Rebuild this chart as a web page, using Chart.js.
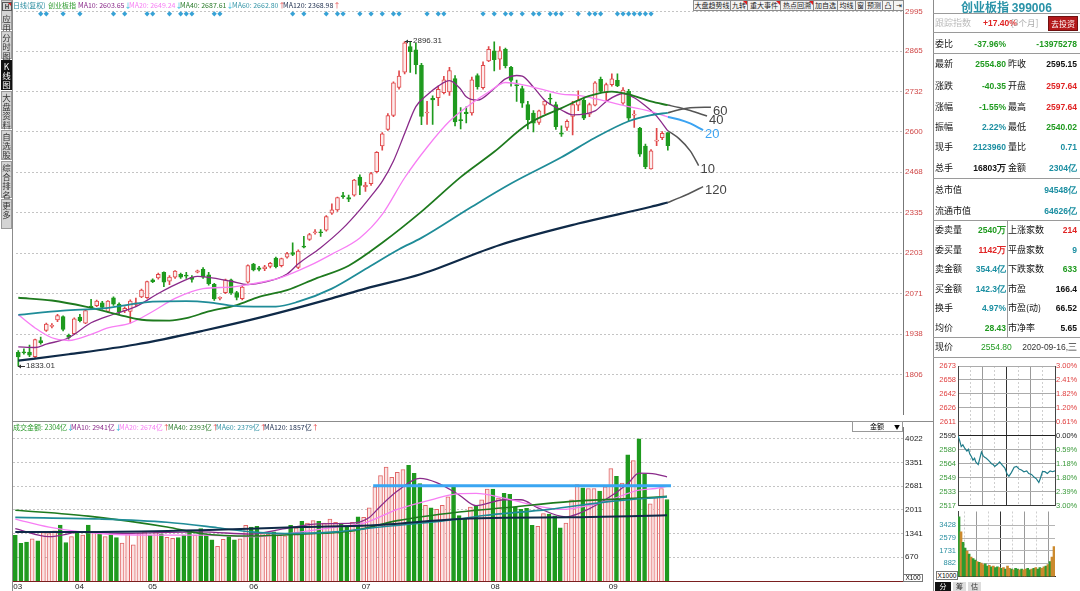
<!DOCTYPE html>
<html>
<head>
<meta charset="utf-8">
<script src="https://cdn.jsdelivr.net/npm/chart.js@4.4.1/dist/chart.umd.min.js"></script>
<style>
    html, body { margin: 0; padding: 0; }
    body { width: 1080px; height: 591px; overflow: hidden; background: #fff; position: relative;
           font-family: "Noto Sans CJK SC", "Noto Sans", sans-serif; }
    canvas { position: absolute; }
    .a { position: absolute; white-space: nowrap; line-height: 1; }
    .ln { position: absolute; background: #8c8c8c; }
    .tab { position: absolute; left: 1px; width: 11px; background: #d4d4d4; border: 1px solid #9a9a9a;
           box-sizing: border-box; font-size: 8.5px; line-height: 9px; text-align: center; color: #333; }
    .btn { position: absolute; top: 0; height: 11px; border: 1px solid #8c8c8c; box-sizing: border-box;
           background: #f3f3f3; font-size: 7px; line-height: 9px; text-align: center; color: #222; overflow: hidden; }
    .corner { position: absolute; right: 0; top: 0; width: 0; height: 0;
              border-top: 4px solid #e02020; border-left: 4px solid transparent; }
    .lg { position: absolute; font-size: 7px; line-height: 1; white-space: nowrap; top: 2px; }
    .num { font-family: "Liberation Sans", Arial, sans-serif; }
    .lab { position: absolute; font-size: 9px; color: #111; white-space: nowrap; line-height: 1; }
    .val { position: absolute; font-size: 8.5px; font-weight: bold; white-space: nowrap; line-height: 1;
           font-family: "Liberation Sans", Arial, sans-serif; }
</style>
</head>
<body>
<canvas id="kline" width="921" height="421" style="left:12px;top:0"></canvas>
<canvas id="vol" width="921" height="170" style="left:12px;top:421px"></canvas>
<canvas id="ipx" width="147" height="154" style="left:933px;top:358px"></canvas>
<canvas id="ivol" width="147" height="78" style="left:933px;top:505px"></canvas>
<div id="overlay"></div>

<script>
// 创业板指 399006 daily candles, 2020-03 .. 2020-09-16
const open = [
    1878, 1880, 1879, 1864, 1917, 1950, 1963, 1984, 1995, 1934,
    1939, 1994, 1974, 2030, 2031, 2040, 2012, 2057, 2036, 2014,
    2012, 2035, 2060, 2057, 2116, 2122, 2140, 2111, 2124, 2134,
    2131, 2124, 2141, 2150, 2132, 2101, 2055, 2074, 2116, 2074,
    2054, 2108, 2167, 2155, 2152, 2160, 2187, 2162, 2190, 2205,
    2156, 2226, 2248, 2270, 2273, 2278, 2334, 2345, 2392, 2385,
    2393, 2452, 2420, 2431, 2470, 2554, 2608, 2654, 2746, 2796,
    2880, 2869, 2818, 2662, 2710, 2712, 2729, 2731, 2775, 2640,
    2665, 2662, 2785, 2745, 2833, 2866, 2838, 2871, 2812, 2755,
    2742, 2690, 2662, 2631, 2688, 2710, 2690, 2597, 2615, 2651,
    2688, 2704, 2658, 2688, 2772, 2729, 2755, 2769, 2694, 2733,
    2655, 2613, 2554, 2479, 2570, 2581, 2597.64
];
const high = [
    1884, 1890, 1902, 1922, 1928, 1974, 1972, 2003, 1998, 1938,
    1991, 2003, 2018, 2052, 2049, 2045, 2048, 2060, 2040, 2027,
    2050, 2056, 2085, 2112, 2119, 2138, 2142, 2130, 2146, 2138,
    2140, 2130, 2148, 2156, 2140, 2104, 2060, 2118, 2118, 2078,
    2095, 2165, 2170, 2160, 2163, 2173, 2190, 2187, 2206, 2237,
    2214, 2258, 2268, 2280, 2280, 2326, 2365, 2387, 2402, 2393,
    2445, 2460, 2435, 2468, 2536, 2598, 2660, 2764, 2800, 2896.31,
    2895, 2890, 2825, 2700, 2718, 2750, 2782, 2812, 2785, 2680,
    2682, 2780, 2790, 2830, 2880, 2895, 2880, 2875, 2815, 2770,
    2750, 2700, 2670, 2672, 2702, 2725, 2698, 2620, 2640, 2700,
    2735, 2710, 2695, 2765, 2780, 2760, 2790, 2790, 2745, 2740,
    2670, 2615, 2560, 2542, 2612, 2601, 2597.64
];
const low = [
    1833.01, 1872, 1864, 1860, 1905, 1947, 1958, 1979, 1948, 1921,
    1937, 1978, 1972, 2020, 2028, 2020, 2010, 2032, 2005, 2008,
    1974, 2028, 2057, 2055, 2106, 2118, 2093, 2100, 2120, 2120,
    2120, 2108, 2138, 2120, 2098, 2048, 2050, 2070, 2068, 2050,
    2050, 2105, 2145, 2145, 2146, 2155, 2155, 2158, 2187, 2195,
    2152, 2220, 2245, 2265, 2258, 2275, 2330, 2340, 2382, 2372,
    2390, 2395, 2405, 2425, 2466, 2540, 2605, 2650, 2740, 2790,
    2795, 2790, 2624, 2625, 2625, 2686, 2725, 2720, 2620, 2610,
    2630, 2655, 2740, 2740, 2830, 2800, 2805, 2810, 2750, 2700,
    2680, 2610, 2600, 2625, 2660, 2690, 2608, 2585, 2605, 2590,
    2670, 2640, 2650, 2685, 2728, 2700, 2750, 2748, 2690, 2635,
    2615, 2520, 2480, 2478, 2555, 2575, 2540.02
];
const close = [
    1863, 1876, 1869, 1920, 1910, 1971, 1967, 1999, 1953, 1927,
    1988, 1982, 2015, 2024, 2046, 2025, 2046, 2036, 2010, 2022,
    2046, 2040, 2082, 2110, 2110, 2134, 2108, 2125, 2144, 2124,
    2128, 2117, 2145, 2124, 2103, 2053, 2056, 2116, 2074, 2058,
    2092, 2162, 2148, 2150, 2158, 2170, 2159, 2185, 2202, 2199,
    2210, 2223, 2264, 2273, 2270, 2323, 2345, 2385, 2388, 2380,
    2442, 2425, 2426, 2464, 2533, 2594, 2654, 2761, 2783, 2892,
    2863, 2820, 2651, 2665, 2705, 2740, 2771, 2801, 2633, 2637,
    2660, 2771, 2748, 2818, 2871, 2837, 2866, 2817, 2769, 2752,
    2694, 2640, 2629, 2669, 2701, 2707, 2617, 2593, 2635, 2690,
    2704, 2645, 2690, 2761, 2733, 2755, 2774, 2751, 2737, 2645,
    2658, 2527, 2486, 2538, 2573, 2595.15, 2554.80
];
// 成交金额 (亿)
const amount = [
    1289, 1062, 1098, 1189, 1134, 1370, 1343, 1416, 1579, 1089,
    1252, 1388, 1298, 1579, 1379, 1325, 1252, 1343, 1225, 1071,
    1343, 1025, 1343, 1388, 1298, 1388, 1325, 1234, 1207, 1225,
    1298, 1434, 1298, 1479, 1298, 1161, 980, 1180, 1252, 1161,
    1189, 1570, 1525, 1543, 1343, 1325, 1388, 1298, 1280, 1570,
    1506, 1688, 1634, 1706, 1688, 1634, 1752, 1661, 1634, 1525,
    1661, 1815, 1800, 2069, 2659, 2977, 3222, 2932, 3068, 3150,
    3267, 3040, 2750, 2142, 2069, 2024, 2140, 2380, 2650, 1850,
    1780, 2087, 2115, 2296, 2596, 2596, 2342, 2478, 2450, 2096,
    2024, 2051, 1570, 1543, 1906, 1888, 1842, 1506, 1634, 2296,
    2723, 2632, 2614, 2614, 2541, 2659, 3177, 2959, 2768, 3567,
    3404, 4021, 3022, 2178, 2360, 2614, 2304
];

const monthTicks = [0, 11, 24, 42, 62, 85, 106];
const monthLabels = ['03', '04', '05', '06', '07', '08', '09'];
const priceTicks = [1806, 1938, 2071, 2203, 2335, 2468, 2600, 2732, 2865, 2995];
const amountTicks = [670, 1341, 2011, 2681, 3351, 4022];
// days with a signal diamond on the top row
const signalDays = [4, 5, 8, 11, 17, 19, 23, 24, 27, 29, 30, 31, 35, 36, 49, 51, 55, 57, 58, 61,
    63, 65, 67, 68, 73, 75, 76, 83, 85, 87, 88, 90, 92, 93, 95, 96, 97, 100, 102, 103, 104,
    107, 108, 109, 110, 111, 112, 113];

// moving averages, [day, value]
const ma10 = [[0,1896],[3,1894],[5,1905],[9,1926],[13,1975],[17,2003],[21,2028],[25,2071],[29,2108],
    [32,2127],[34,2124],[38,2111],[41,2100],[44,2108],[48,2135],[50,2168],[54,2221],[58,2285],[61,2345],
    [63,2390],[65,2438],[67,2505],[69,2595],[71,2683],[73,2721],[75,2750],[77,2768],[79,2740],[80,2715],
    [82,2704],[85,2742],[87,2774],[89,2785],[90,2783],[92,2747],[94,2704],[97,2672],[99,2656],[103,2669],
    [105,2700],[108,2726],[110,2712],[111,2700],[113,2670],[114,2652],[116,2603.65]];
const ma20 = [[0,2001],[3,1958],[6,1926],[9,1917],[13,1937],[16,1958],[20,1974],[24,2012],[28,2055],
    [33,2087],[38,2092],[42,2103],[47,2124],[52,2162],[56,2200],[61,2253],[65,2330],[69,2450],[73,2550],
    [77,2635],[81,2694],[84,2731],[87,2762],[90,2755],[93,2742],[97,2724],[100,2720],[104,2705],
    [109,2683],[113,2667],[116,2649.24]];
const ma40 = [[0,2057],[6,2048],[12,2028],[18,2001],[22,1985],[27,1982],[30,1990],[34,2012],[39,2033],
    [43,2060],[48,2082],[53,2119],[59,2162],[65,2237],[72,2339],[79,2452],[85,2535],[91,2626],[97,2678],
    [102,2718],[106,2732],[109,2723],[113,2700],[116,2687.61]];
const ma60 = [[0,2001],[8,2015],[15,2022],[24,2044],[30,2046],[34,2042],[38,2031],[42,2028],[46,2028],
    [50,2044],[56,2087],[62,2151],[68,2216],[72,2253],[81,2355],[88,2431],[97,2517],[103,2581],
    [109,2635],[113,2655],[116,2662.80]];
const ma120 = [[0,1851],[9,1872],[21,1904],[33,1949],[44,1996],[56,2055],[62,2087],[72,2135],[86,2230],
    [100,2300],[113,2355],[116,2368.98]];
// projected ends drawn past the last bar
const ext10 = [[116,2604],[118,2578],[120,2538],[121.5,2490]];
const ext20 = [[116,2649],[118,2641],[120,2628],[122.3,2606]];
const ext40 = [[116,2688],[118,2680],[120,2670],[123,2652]];
const ext60 = [[116,2663],[118,2673],[120,2679],[123.7,2681]];
const ext120 = [[116,2369],[118,2384],[120,2400],[122.3,2421]];

// amount moving averages, [day, 亿]
const vma10 = [[0,1479],[6,1252],[12,1388],[18,1343],[24,1361],[33,1388],[42,1325],[48,1479],[54,1615],
    [60,1634],[63,1797],[65,2115],[68,2541],[72,2900],[75,2780],[79,2432],[82,2130],[87,2296],[90,2296],
    [93,2069],[98,1815],[100,1888],[105,2296],[109,2750],[111,3050],[114,3022],[116,2941]];
const vma20 = [[0,1752],[6,1525],[15,1343],[24,1298],[33,1298],[42,1252],[51,1388],[57,1525],[62,1634],
    [68,2024],[74,2296],[79,2470],[82,2478],[87,2342],[93,2115],[97,2024],[105,2251],[111,2569],
    [114,2614],[116,2674]];
const vma40 = [[0,2000],[13,1833],[27,1525],[33,1343],[42,1270],[51,1325],[60,1416],[68,1706],[79,1950],
    [87,2069],[99,2251],[111,2342],[116,2393]];
const vma60 = [[0,1797],[15,1752],[27,1661],[36,1506],[42,1388],[48,1343],[57,1388],[65,1525],[74,1661],
    [79,1752],[83,1842],[95,2024],[106,2251],[116,2379]];
const vma120 = [[0,1388],[15,1388],[33,1434],[51,1525],[63,1570],[79,1752],[87,1790],[99,1800],
    [111,1840],[116,1857]];
const amountLine = [[63.7,2690],[116.7,2690]];

// intraday 2020-09-16: minute from open, price
const iMinute = [0,4,8,12,17,22,26,29,33,37,41,44,50,54,58,62,66,70,75,79,83,87,91,97,103,110,116,120,
    122,126,132,139,145,151,157,163,170,175,182,188,194,200,204,209,215,221,228,234,240];
const iPrice = [2595,2590,2583,2585,2581,2578,2580,2575,2572,2568,2570,2566,2563,2570,2577,2573,2571,
    2570,2568,2566,2564,2563,2561,2563,2566,2562,2559,2554,2552,2550,2554,2560,2561,2558,2557,2555,
    2556,2553,2552,2549,2547,2543,2548,2555,2555,2553,2556,2555,2556];
// intraday volume per 5 minutes (x1000) and whether the slot went up
const iVol = [4000,3000,2300,1900,1700,1500,1300,1200,1100,1000,950,900,800,850,700,750,650,700,600,650,
    600,550,600,500,700,550,500,450,550,500,450,500,450,500,550,450,500,550,600,500,600,550,650,700,800,
    1000,1300,2000];
const iVolUp = [0,1,0,0,1,0,1,0,0,1,0,1,1,0,0,1,0,1,0,0,1,0,1,0,1,1,0,1,0,0,1,0,1,1,0,0,1,0,1,0,0,1,1,0,
    1,0,1,1];
const iPxLabels = ['2517','2533','2549','2564','2580','2595','2611','2626','2642','2658','2673'];
const iPctLabels = ['3.00%','2.39%','1.80%','1.18%','0.59%','0.00%','0.61%','1.20%','1.82%','2.41%','3.00%'];
const iVolTicks = [882, 1731, 2579, 3428];

const RED = '#E0484A', GREEN = '#1E9A1E', HOLLOW = '#FDECEC';
const xMin = -0.41, xMax = 158.0;
const up = close.map((c, i) => c >= open[i]);
const pts = arr => arr.map(([x, y]) => ({ x, y }));

function maLine(arr, color, width, extra) {
    return Object.assign({
        type: 'line', data: pts(arr), borderColor: color, borderWidth: width,
        pointRadius: 0, cubicInterpolationMode: 'monotone', order: -1
    }, extra || {});
}

// high / low marks and the labels on the projected ends
const notePlugin = {
    id: 'notes',
    afterDatasetsDraw(chart) {
        const { ctx, scales: { x, y } } = chart;
        ctx.save();
        ctx.textBaseline = 'middle';
        const hi = high.indexOf(Math.max(...high));
        const lo = low.indexOf(Math.min(...low));
        [[hi, high[hi]], [lo, low[lo]]].forEach(([i, v]) => {
            const px = Math.round(x.getPixelForValue(i)), py = Math.round(y.getPixelForValue(v)) + 0.5;
            ctx.strokeStyle = '#333';
            ctx.fillStyle = '#333';
            ctx.lineWidth = 1;
            ctx.beginPath(); ctx.moveTo(px, py); ctx.lineTo(px + 7, py); ctx.stroke();
            ctx.beginPath(); ctx.moveTo(px, py); ctx.lineTo(px + 3, py - 2); ctx.lineTo(px + 3, py + 2); ctx.fill();
            ctx.font = '8px "Liberation Sans", Arial, sans-serif';
            ctx.fillText(v.toFixed(2), px + 8, py - 0.5);
        });
        ctx.font = '13px "Liberation Sans", Arial, sans-serif';
        chart.data.datasets.forEach(ds => {
            if (!ds.endLabel) return;
            const last = ds.data[ds.data.length - 1];
            ctx.fillStyle = ds.labelColor;
            ctx.fillText(ds.endLabel, x.getPixelForValue(last.x) + 2, y.getPixelForValue(last.y) + 4);
        });
        ctx.restore();
    }
};

const noUi = { legend: { display: false }, tooltip: { enabled: false } };

new Chart(document.getElementById('kline'), {
    data: {
        datasets: [
            {
                type: 'bar', data: open.map((o, i) => ({ x: i, y: [o, close[i]] })),
                backgroundColor: up.map(u => u ? HOLLOW : GREEN), borderColor: up.map(u => u ? RED : GREEN),
                borderWidth: 1, borderSkipped: false, barThickness: 4, minBarLength: 1, grouped: false, order: 0
            },
            {
                type: 'bar', data: low.map((l, i) => ({ x: i, y: [l, high[i]] })),
                backgroundColor: up.map(u => u ? RED : GREEN), barThickness: 1, grouped: false, order: 1
            },
            maLine(ma120, '#0F2A48', 2.2),
            maLine(ma60, '#1F8C98', 1.8),
            maLine(ma40, '#1E7A1E', 1.8),
            maLine(ma20, '#F77EF4', 1.3),
            maLine(ma10, '#8A2A8A', 1.3),
            maLine(ext10, '#555', 1.5, { endLabel: '10', labelColor: '#444' }),
            maLine(ext20, '#3BA3F2', 2, { endLabel: '20', labelColor: '#3BA3F2' }),
            maLine(ext40, '#555', 1.5, { endLabel: '40', labelColor: '#444' }),
            maLine(ext60, '#555', 1.5, { endLabel: '60', labelColor: '#444' }),
            maLine(ext120, '#555', 1.5, { endLabel: '120', labelColor: '#444' }),
            {
                type: 'line', data: signalDays.map(i => ({ x: i, y: 2987 })), showLine: false,
                pointStyle: 'rectRot', pointRadius: 2.6, pointBackgroundColor: '#37A2D6', pointBorderWidth: 0, order: -2
            }
        ]
    },
    options: {
        responsive: false, animation: false,
        layout: { padding: { left: 1, top: 8, right: 0, bottom: 0 } },
        plugins: noUi,
        scales: {
            x: { type: 'linear', min: xMin, max: xMax, offset: false, display: false },
            y: {
                position: 'right', min: 1675.6, max: 3006,
                afterFit(s) { s.width = 30; },
                afterBuildTicks(s) { s.ticks = priceTicks.map(v => ({ value: v })); },
                ticks: { color: '#D04848', font: { size: 8, family: 'Liberation Sans' }, padding: 2, callback: v => v },
                grid: { color: '#C4C4C4', drawTicks: false },
                border: { color: '#777', dash: [2, 2] }
            }
        }
    },
    plugins: [notePlugin]
});

new Chart(document.getElementById('vol'), {
    data: {
        datasets: [
            {
                type: 'bar', data: amount.map((v, i) => ({ x: i, y: v })),
                backgroundColor: up.map(u => u ? '#FBE3E3' : GREEN), borderColor: up.map(u => u ? '#E06666' : GREEN),
                borderWidth: 1, barThickness: 4, grouped: false, order: 1
            },
            maLine(vma120, '#0F2A48', 2),
            maLine(vma60, '#1F8C98', 1.6),
            maLine(vma40, '#1E7A1E', 1.6),
            maLine(vma20, '#F77EF4', 1.3),
            maLine(vma10, '#8A2A8A', 1.3),
            { type: 'line', data: pts(amountLine), borderColor: '#3AA6F2', borderWidth: 3, pointRadius: 0, order: -3 }
        ]
    },
    options: {
        responsive: false, animation: false,
        layout: { padding: { left: 1, top: 1, right: 0, bottom: 0 } },
        plugins: noUi,
        scales: {
            x: {
                type: 'linear', min: xMin, max: xMax, offset: false,
                afterFit(s) { s.height = 10; },
                afterBuildTicks(s) { s.ticks = monthTicks.map(v => ({ value: v })); },
                ticks: {
                    align: 'start', labelOffset: -2, padding: 1, autoSkip: false, maxRotation: 0,
                    color: '#222', font: { size: 8, family: 'Liberation Sans' },
                    callback: (v, idx) => monthLabels[idx]
                },
                grid: { display: false, drawTicks: false },
                border: { color: '#7A1F1F' }
            },
            y: {
                position: 'right', min: 0, max: 4330,
                afterFit(s) { s.width = 30; },
                afterBuildTicks(s) { s.ticks = amountTicks.map(v => ({ value: v })); },
                ticks: { color: '#222', font: { size: 8, family: 'Liberation Sans' }, padding: 2, callback: v => v },
                grid: { color: '#C4C4C4', drawTicks: false },
                border: { color: '#777', dash: [2, 2] }
            }
        }
    }
});

// intraday panel
const halfHours = [0, 30, 60, 90, 120, 150, 180, 210, 240];
const tickVal = c => (c && c.tick) ? c.tick.value : 0;
const vGridColor = c => tickVal(c) === 120 ? '#333' : (tickVal(c) % 60 === 0 ? '#9a9a9a' : '#cfcfcf');
const vGridDash = c => tickVal(c) % 60 === 30 ? [2, 2] : [];
const iMin = 2517.3, iMax = 2673.0;
const pxColor = c => c.index > 5 ? '#E04040' : (c.index === 5 ? '#222' : '#3A9A3A');

new Chart(document.getElementById('ipx'), {
    type: 'line',
    data: {
        datasets: [{
            data: iMinute.map((m, k) => ({ x: m, y: iPrice[k] })),
            borderColor: '#1F7C8A', borderWidth: 1.2, pointRadius: 0, tension: 0
        }]
    },
    options: {
        responsive: false, animation: false,
        layout: { padding: { top: 8, bottom: 3 } },
        plugins: noUi,
        scales: {
            x: {
                type: 'linear', min: 0, max: 240, offset: false,
                afterFit(s) { s.height = 0; },
                afterBuildTicks(s) { s.ticks = halfHours.map(v => ({ value: v })); },
                ticks: { display: false },
                grid: { color: vGridColor, drawTicks: false },
                border: { color: '#333', dash: vGridDash }
            },
            y: {
                position: 'left', min: iMin, max: iMax,
                afterFit(s) { s.width = 25; },
                afterBuildTicks(s) { s.ticks = iPxLabels.map((_, k) => ({ value: iMin + k * (iMax - iMin) / 10 })); },
                ticks: { color: pxColor, font: { size: 7.5, family: 'Liberation Sans' }, padding: 2, callback: (v, k) => iPxLabels[k] },
                grid: { color: c => c.index === 5 ? '#222' : '#ababab', drawTicks: false },
                border: { color: '#444' }
            },
            yr: {
                position: 'right', min: iMin, max: iMax,
                afterFit(s) { s.width = 25; },
                afterBuildTicks(s) { s.ticks = iPctLabels.map((_, k) => ({ value: iMin + k * (iMax - iMin) / 10 })); },
                ticks: { color: pxColor, font: { size: 7.5, family: 'Liberation Sans' }, padding: 1, callback: (v, k) => iPctLabels[k] },
                grid: { drawOnChartArea: false, drawTicks: false },
                border: { color: '#444' }
            }
        }
    }
});

new Chart(document.getElementById('ivol'), {
    type: 'bar',
    data: {
        datasets: [{
            data: iVol.map((v, k) => ({ x: 2.5 + k * 5, y: v })),
            backgroundColor: iVolUp.map(u => u ? '#CC8A2E' : '#2F9A2F'),
            barThickness: 2
        }]
    },
    options: {
        responsive: false, animation: false,
        layout: { padding: { top: 4, bottom: 4, right: 25 } },
        plugins: noUi,
        scales: {
            x: {
                type: 'linear', min: 0, max: 240, offset: false,
                afterFit(s) { s.height = 0; },
                afterBuildTicks(s) { s.ticks = halfHours.map(v => ({ value: v })); },
                ticks: { display: false },
                grid: { color: vGridColor, drawTicks: false },
                border: { color: '#333', dash: vGridDash }
            },
            y: {
                position: 'left', min: 0, max: 4363,
                afterFit(s) { s.width = 25; },
                afterBuildTicks(s) { s.ticks = iVolTicks.map(v => ({ value: v })); },
                ticks: { color: '#2A8FA0', font: { size: 7.5, family: 'Liberation Sans' }, padding: 2, callback: v => v },
                grid: { color: '#b5b5b5', drawTicks: false },
                border: { color: '#444' }
            }
        }
    }
});

// ---- static text: toolbar, legends, quote table
const G = '#1F9A1F', R = '#E02424', T = '#1C8FA2', K = '#111';
const overlay = document.getElementById('overlay');
const add = html => overlay.insertAdjacentHTML('beforeend', html);

// separators
add('<div class="ln" style="left:12px;top:0;width:1px;height:591px"></div>');
add('<div class="ln" style="left:12px;top:421px;width:921px;height:1px"></div>');
add('<div class="ln" style="left:933px;top:0;width:1px;height:591px"></div>');
[13, 32, 53, 178, 220, 337, 357].forEach(y => add(`<div class="ln" style="left:933px;top:${y}px;width:147px;height:1px;background:#9a9a9a"></div>`));
add('<div class="ln" style="left:1007px;top:220px;width:1px;height:117px;background:#9a9a9a"></div>');

// left toolbar
add('<div class="tab" style="top:0;height:30px;padding-top:1px"><div style="width:8px;height:7px;margin:0 auto 3px;border:1px solid #555;font-size:6px;line-height:7px;font-weight:bold;position:relative">H<div class="corner" style="border-top-width:3px;border-left-width:3px"></div></div>应<br>用</div>');
[[31, 28, '分<br>时<br>图', false], [60, 30, 'K<br>线<br>图', true], [91, 38, '大<br>盘<br>资<br>料', false],
 [130, 30, '自<br>选<br>股', false], [161, 37, '综<br>合<br>排<br>名', false], [199, 30, '更<br>多', false]]
    .forEach(([t, h, txt, dark]) => add(`<div class="tab" style="top:${t}px;height:${h}px;padding-top:1px;${dark ? 'background:#111;color:#fff;border-color:#111' : ''}">${txt}</div>`));

// top buttons
[[693, 730, '大盘趋势线', 0], [730, 747, '九转', 1], [747, 780, '重大事件', 1], [780, 813, '热点回溯', 1],
 [813, 837, '加自选', 0], [837, 855, '均线', 0], [855, 865, '窗', 0], [865, 882, '预测', 0], [882, 893, '凸', 0], [893, 903, '⇥', 0]]
    .forEach(([x0, x1, txt, c]) => add(`<div class="btn" style="left:${x0}px;width:${x1 - x0 + 1}px">${txt}${c ? '<div class="corner"></div>' : ''}</div>`));

// price legend
const dn = '<span style="color:#17B3D6">↓</span>', upA = '<span style="color:#E03030">↑</span>';
[[13, '#2A8CA0', '日线(复权)', ''], [48, '#2E9B2E', '创业板指', ''], [78, '#8A2A8A', 'MA10: 2603.65', dn],
 [129, '#F77EF4', 'MA20: 2649.24', dn], [180, '#2C7C2C', 'MA40: 2687.61', dn], [232, '#3796A8', 'MA60: 2662.80', upA],
 [283, '#1E2E4E', 'MA120: 2368.98', upA]]
    .forEach(([x, col, txt, arr]) => add(`<div class="lg" style="left:${x}px;color:${col}">${txt}${arr}</div>`));
// amount legend
[[13, '#2E9B2E', '成交金额: 2304亿', dn], [71, '#8A2A8A', 'MA10: 2941亿', dn], [119, '#F77EF4', 'MA20: 2674亿', upA],
 [168, '#2C7C2C', 'MA40: 2393亿', upA], [216, '#3796A8', 'MA60: 2379亿', upA], [264, '#1E2E4E', 'MA120: 1857亿', upA]]
    .forEach(([x, col, txt, arr]) => add(`<div class="lg" style="left:${x}px;top:424px;color:${col}">${txt}${arr}</div>`));
add('<div class="a" style="left:852px;top:421px;width:51px;height:11px;border:1px solid #999;box-sizing:border-box;background:#fff;font-size:7px;line-height:9px"><span style="position:absolute;left:17px">金额</span><span style="position:absolute;right:2px;font-size:6px">▼</span></div>');
add('<div class="a num" style="left:903px;top:574px;width:20px;height:8px;border:1px solid #777;box-sizing:border-box;font-size:6.5px;line-height:6px;text-align:center;background:#fff">X100</div>');

// quote table
add(`<div class="a" style="left:933px;width:147px;top:1px;text-align:center;font-size:12px;font-weight:bold;color:#2A93A8">创业板指 <span class="num">399006</span></div>`);
add(`<div class="lab" style="left:935px;top:18px;color:#bdbdbd">跟踪指数</div>`);
add(`<div class="val" style="left:983px;top:19px;color:${R}">+17.40%</div>`);
add(`<div class="lab" style="left:1011px;top:18px;color:#aaa;font-size:8.5px">[3个月]</div>`);
add('<div class="a" style="left:1048px;top:16px;width:30px;height:15px;background:#B3191B;border:1px solid #701010;box-sizing:border-box;color:#fff;font-size:8px;line-height:13px;text-align:center">去投资</div>');

const rows = [
    [44, '委比', '-37.96%', G, '', '-13975278', G],
    [64, '最新', '2554.80', G, '昨收', '2595.15', K],
    [86, '涨跌', '-40.35', G, '开盘', '2597.64', R],
    [107, '涨幅', '-1.55%', G, '最高', '2597.64', R],
    [127, '振幅', '2.22%', T, '最低', '2540.02', G],
    [147, '现手', '2123960', T, '量比', '0.71', T],
    [168, '总手', '16803万', K, '金额', '2304亿', T],
    [190, '总市值', '', K, '', '94548亿', T],
    [211, '流通市值', '', K, '', '64626亿', T],
    [230, '委卖量', '2540万', G, '上涨家数', '214', R],
    [250, '委买量', '1142万', R, '平盘家数', '9', T],
    [269, '卖金额', '354.4亿', T, '下跌家数', '633', G],
    [289, '买金额', '142.3亿', T, '市盈', '166.4', K],
    [308, '换手', '4.97%', T, '市盈(动)', '66.52', K],
    [328, '均价', '28.43', G, '市净率', '5.65', K]
];
rows.forEach(([y, l1, v1, c1, l2, v2, c2]) => {
    add(`<div class="lab" style="left:935px;top:${y - 5}px">${l1}</div>`);
    if (v1) add(`<div class="val" style="right:74px;top:${y - 4}px;color:${c1}">${v1}</div>`);
    if (l2) add(`<div class="lab" style="left:1008px;top:${y - 5}px">${l2}</div>`);
    add(`<div class="val" style="right:3px;top:${y - 4}px;color:${c2}">${v2}</div>`);
});
add(`<div class="lab" style="left:935px;top:342px">现价</div>`);
add(`<div class="val" style="left:981px;top:343px;color:${G};font-weight:normal">2554.80</div>`);
add(`<div class="val" style="right:3px;top:343px;color:#333;font-weight:normal">2020-09-16,三</div>`);

// intraday corner box and tabs
add('<div class="a num" style="left:936px;top:571px;width:22px;height:9px;border:1px solid #777;box-sizing:border-box;font-size:6.5px;line-height:7px;text-align:center;background:#fff">X1000</div>');
add('<div class="a" style="left:935px;top:582px;width:16px;height:9px;background:#111;color:#fff;font-size:7px;line-height:9px;text-align:center">分</div>');
add('<div class="a" style="left:953px;top:582px;width:13px;height:9px;background:#ddd;color:#333;font-size:7px;line-height:9px;text-align:center">筹</div>');
add('<div class="a" style="left:968px;top:582px;width:13px;height:9px;background:#ddd;color:#333;font-size:7px;line-height:9px;text-align:center">估</div>');
</script>
</body>
</html>
